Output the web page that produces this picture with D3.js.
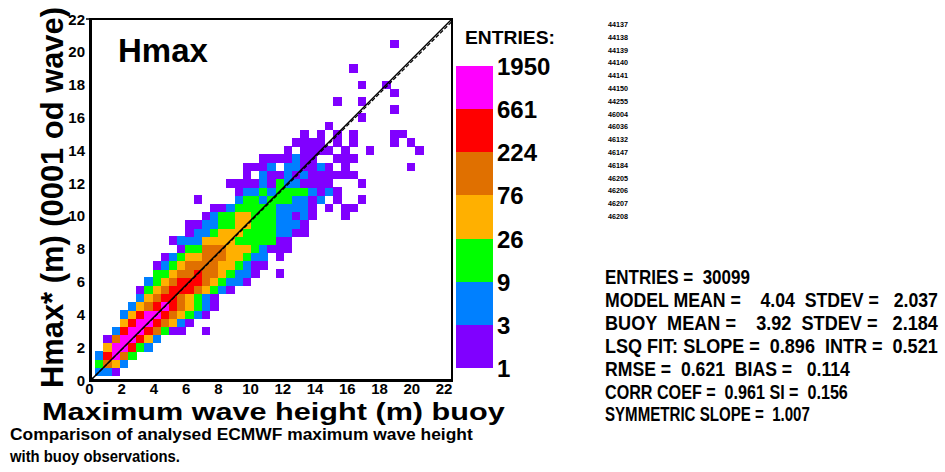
<!DOCTYPE html>
<html>
<head>
<meta charset="utf-8">
<script src="https://cdn.jsdelivr.net/npm/d3@7"></script>
<style>
  body { margin: 0; background: #fff; }
  svg { display: block; font-family: "Liberation Sans", Arial, Helvetica, sans-serif; font-weight: bold; }
</style>
</head>
<body>
<svg id="chart" width="945" height="472"></svg>
<script>
// Hmax model vs buoy: 2-D histogram of collocated pairs

// bins are 0.5 m wide on both axes, centred on multiples of 0.5 m
const binSize = 0.5;
const axisTicks = [0, 2, 4, 6, 8, 10, 12, 14, 16, 18, 20, 22];

// colour classes (number of entries per bin)
const levelBreaks = [1, 3, 9, 26, 76, 224, 661, 1950];
const levelColors = ["#8000ff", "#0080ff", "#00ff00", "#ffb000", "#e07000", "#ff0000", "#ff00ff"];

// one string per model row (row index * 0.5 m), one character per buoy column
// (column index * 0.5 m); "1".."7" = colour class, "." = no entries
const densityRows = [
  "",
  ".221",
  ".3542",
  ".26753",
  "..477632",
  "..1577642",
  "...267765311..1",
  "....467765421",
  "....24677654321",
  ".....24567654321",
  "......2456654321",
  "......134566654321",
  ".......2345666543221",
  "........3345565543221..1",
  "........12345555443211",
  ".........1234455544322.1",
  "...........13355544432111",
  "..........122244443333311",
  "............122344433332211",
  "............112233443332221",
  "..............12334433322121...1",
  "...............1123333322221.1.11",
  ".............1....23323332212.1..1",
  "..................1223233332121",
  ".................1111213221111...1",
  "...................1.211212111111",
  "...................1112.221121.1.......1",
  ".....................1111211..111",
  "........................1.1111.1..1.....1",
  ".........................1111.1.1....1.1",
  "..........................1.1.1.1....11",
  ".............................1",
  ".................................1",
  ".....................................1",
  "..............................1..1",
  ".....................................1",
  ".................................1..1",
  "",
  "................................1",
  "",
  "",
  ".....................................1"
];

const stations = ["44137", "44138", "44139", "44140", "44141", "44150", "44255", "46004",
                  "46036", "46132", "46147", "46184", "46205", "46206", "46207", "46208"];

const statLines = [
  "ENTRIES =  30099",
  "MODEL MEAN =    4.04  STDEV =   2.037",
  "BUOY  MEAN =    3.92  STDEV =   2.184",
  "LSQ FIT: SLOPE =  0.896  INTR =  0.521",
  "RMSE =  0.621  BIAS =   0.114",
  "CORR COEF =  0.961 SI =  0.156",
  "SYMMETRIC SLOPE =  1.007"
];
const statWidths = [145, 333, 333, 333, 245, 243, 205];

const captionLines = ["Comparison of analysed ECMWF maximum wave height", "with buoy observations."];
const captionWidths = [463, 170];

const symmetricSlope = 1.007;

// ---------------------------------------------------------------

const svg = d3.select("#chart");
svg.append("rect").attr("width", 945).attr("height", 472).attr("fill", "#fff");

const plot = {left: 91, right: 452, top: 19, bottom: 380};

const x = d3.scaleLinear().domain([0, 22]).range([plot.left, plot.right]);
const y = d3.scaleLinear().domain([0, 22]).range([plot.bottom, plot.top]);
// the x tick labels in the original sit slightly left of the frame scale
const xLabel = d3.scaleLinear().domain([0, 22]).range([89.5, 444]);

const color = d3.scaleOrdinal().domain(d3.range(1, 8)).range(levelColors);

// squeeze a text horizontally so it spans the given width
function fitWidth(sel, x0, y0, width) {
    sel.each(function(d, i) {
        const t = d3.select(this);
        const w = typeof width === "function" ? width(d, i) : width;
        const yy = typeof y0 === "function" ? y0(d, i) : y0;
        const natural = this.getComputedTextLength();
        t.attr("transform", "translate(" + x0 + "," + yy + ") scale(" + (w / natural) + ",1)");
    });
}

// unpack the rows into cells
const cells = [];
densityRows.forEach(function(row, j) {
    for (let i = 0; i < row.length; i++) {
        if (row[i] !== ".") {
            cells.push({bx: i * binSize, by: j * binSize, level: +row[i]});
        }
    }
});

svg.append("clipPath").attr("id", "plotClip")
    .append("rect")
    .attr("x", plot.left).attr("y", plot.top)
    .attr("width", plot.right - plot.left).attr("height", plot.bottom - plot.top);

const cellW = x(binSize) - x(0);
svg.append("g")
    .attr("clip-path", "url(#plotClip)")
    .attr("shape-rendering", "crispEdges")
    .selectAll("rect")
    .data(cells)
    .join("rect")
    .attr("x", d => x(d.bx - binSize / 2))
    .attr("y", d => y(d.by + binSize / 2))
    .attr("width", cellW + 0.4)
    .attr("height", cellW + 0.4)
    .attr("fill", d => color(d.level));

// diagonal and symmetric-slope lines
svg.append("line")
    .attr("x1", x(0)).attr("y1", y(0))
    .attr("x2", x(22)).attr("y2", y(22 / symmetricSlope))
    .attr("stroke", "#000").attr("stroke-width", 1.2)
    .attr("stroke-dasharray", "4,2");
svg.append("line")
    .attr("x1", x(0)).attr("y1", y(0))
    .attr("x2", x(22)).attr("y2", y(22))
    .attr("stroke", "#000").attr("stroke-width", 1.4);

// frame
svg.append("rect")
    .attr("x", plot.left).attr("y", plot.top)
    .attr("width", plot.right - plot.left).attr("height", plot.bottom - plot.top)
    .attr("fill", "none").attr("stroke", "#000").attr("stroke-width", 2);
svg.append("line")
    .attr("x1", plot.left - 0.5).attr("x2", plot.left - 0.5)
    .attr("y1", plot.top - 1).attr("y2", plot.bottom + 1.5)
    .attr("stroke", "#000").attr("stroke-width", 3);
svg.append("line")
    .attr("x1", plot.left - 2).attr("x2", plot.right + 1)
    .attr("y1", plot.bottom + 0.5).attr("y2", plot.bottom + 0.5)
    .attr("stroke", "#000").attr("stroke-width", 3);
svg.append("line")
    .attr("x1", plot.left - 5).attr("x2", plot.left)
    .attr("y1", plot.top).attr("y2", plot.top)
    .attr("stroke", "#000").attr("stroke-width", 1.5);

// tick labels
svg.append("g").selectAll("text")
    .data(axisTicks)
    .join("text")
    .attr("x", 85)
    .attr("y", d => y(d) + 5.5)
    .attr("text-anchor", "end")
    .style("font-size", "15px")
    .text(d => d);

svg.append("g").selectAll("text")
    .data(axisTicks)
    .join("text")
    .attr("x", d => xLabel(d))
    .attr("y", 394)
    .attr("text-anchor", "middle")
    .style("font-size", "15px")
    .text(d => d);

// axis titles
svg.append("text")
    .style("font-size", "24px")
    .text("Maximum wave height (m) buoy")
    .call(fitWidth, 42, 419.5, 463);

svg.append("text")
    .attr("transform", "translate(63,388) rotate(-90)")
    .attr("textLength", 381).attr("lengthAdjust", "spacingAndGlyphs")
    .style("font-size", "31px")
    .text("Hmax* (m) (0001 od wave)");

svg.append("text")
    .attr("x", 118).attr("y", 62)
    .style("font-size", "33px")
    .text("Hmax");

// caption
svg.append("g").selectAll("text")
    .data(captionLines)
    .join("text")
    .style("font-size", "17px")
    .text(d => d)
    .call(fitWidth, 10, (d, i) => 440 + i * 22, (d, i) => captionWidths[i]);

// colour legend
const legendY = d3.scaleLinear().domain([0, levelColors.length]).range([368, 66]);
svg.append("text")
    .style("font-size", "19px")
    .text("ENTRIES:")
    .call(fitWidth, 465, 44, 90);

svg.append("g")
    .attr("shape-rendering", "crispEdges")
    .selectAll("rect")
    .data(levelColors)
    .join("rect")
    .attr("x", 456)
    .attr("width", 37)
    .attr("y", (d, i) => legendY(i + 1))
    .attr("height", (d, i) => legendY(i) - legendY(i + 1))
    .attr("fill", d => d);

svg.append("g").selectAll("text")
    .data(levelBreaks)
    .join("text")
    .attr("x", 497)
    .attr("y", (d, i) => legendY(i) + 9)
    .style("font-size", "24px")
    .text(d => d);

// station list
svg.append("g").selectAll("text")
    .data(stations)
    .join("text")
    .attr("fill", "#000")
    .style("font-size", "7.5px")
    .text(d => d)
    .call(fitWidth, 608, (d, i) => 27 + i * 12.8, 20);

// statistics block
svg.append("g").selectAll("text")
    .data(statLines)
    .join("text")
    .style("font-size", "20px")
    .style("white-space", "pre")
    .text(d => d)
    .call(fitWidth, 605, (d, i) => 284 + i * 22.9, (d, i) => statWidths[i]);
</script>
</body>
</html>
